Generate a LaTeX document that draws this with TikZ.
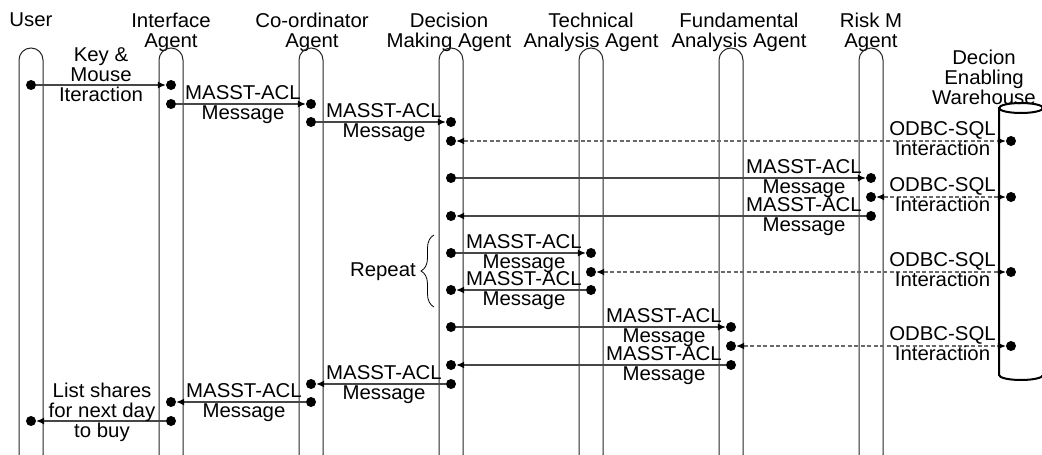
\documentclass[tikz,border=0pt]{standalone}
\usepackage{fontspec}
\setmainfont{Liberation Sans}[FakeStretch=1.02]
\usepackage{xcolor}
\usepackage{tikz}
\definecolor{linegray}{RGB}{70, 70, 70}
\definecolor{dashgray}{RGB}{105, 105, 105}
\usetikzlibrary{arrows.meta, positioning, calc, decorations.pathreplacing}

\begin{document}
\begin{tikzpicture}[x=1pt, y=-1pt,
        every node/.style={font=\fontsize{20}{20}\selectfont, inner sep=0pt},
        lifeline/.style={draw=black!85, line width=1pt, rounded corners=12pt,
                         minimum width=24pt, minimum height=419pt},
        dot/.style={circle, fill=black, minimum size=10pt},
        msg/.style={draw=linegray, line width=1.1pt, -{Latex[length=8pt, width=7pt, color=black]}},
        sqlmsg/.style={draw=dashgray, line width=1.1pt, dash pattern=on 4pt off 2.5pt,
                       {Latex[length=8pt, width=7pt, color=black]}-{Latex[length=8pt, width=7pt, color=black]}},
        head/.style={anchor=north, align=center},
        lbl/.style={anchor=north east, align=center}]
        \useasboundingbox (0,0) rectangle (1042,455);
        \clip (0,0) rectangle (1042,455);

        % headers
        \node[head] (huser) at (31,12.7) {User};
        \node[head] (hintf) at (171,12.7) {Interface\\Agent};
        \node[head] (hcoord) at (312,12.7) {Co-ordinator\\Agent};
        \node[head] (hdec) at (449,12.7) {Decision\\Making Agent};
        \node[head] (htech) at (591,12.7) {Technical\\Analysis Agent};
        \node[head] (hfund) at (739,12.7) {Fundamental\\Analysis Agent};
        \node[head] (hrisk) at (871,12.7) {Risk M\\Agent};
        \node[head] (hware) at (984,50) {Decion\\Enabling\\Warehouse};

        % lifelines
        \node[lifeline] (user) at (31,257.5) {};
        \node[lifeline] (intf) at (171,257.5) {};
        \node[lifeline] (coord) at (311,257.5) {};
        \node[lifeline] (dec) at (451,257.5) {};
        \node[lifeline] (tech) at (591,257.5) {};
        \node[lifeline] (fund) at (731,257.5) {};
        \node[lifeline] (risk) at (871,257.5) {};

        % warehouse
        \draw[line width=2pt] (999,108) -- (999,375)
            arc[start angle=180, end angle=0, x radius=22, y radius=5] -- (1043,108);
        \draw[line width=2pt] (1021,108) ellipse [x radius=22, y radius=5];

        % dots
        \node[dot] (u1) at (31,85) {};
        \node[dot] (u2) at (31,421) {};
        \node[dot] (i1) at (171,85) {};
        \node[dot] (i2) at (171,104) {};
        \node[dot] (i3) at (171,402) {};
        \node[dot] (i4) at (171,421) {};
        \node[dot] (c1) at (311,104) {};
        \node[dot] (c2) at (311,122) {};
        \node[dot] (c3) at (311,384) {};
        \node[dot] (c4) at (311,402) {};
        \node[dot] (d1) at (451,122) {};
        \node[dot] (d2) at (451,141) {};
        \node[dot] (d3) at (451,178) {};
        \node[dot] (d4) at (451,216) {};
        \node[dot] (d5) at (451,253) {};
        \node[dot] (d6) at (451,290) {};
        \node[dot] (d7) at (451,327) {};
        \node[dot] (d8) at (451,365) {};
        \node[dot] (d9) at (451,384) {};
        \node[dot] (t1) at (591,253) {};
        \node[dot] (t2) at (591,272) {};
        \node[dot] (t3) at (591,290) {};
        \node[dot] (f1) at (731,327) {};
        \node[dot] (f2) at (731,346) {};
        \node[dot] (f3) at (731,365) {};
        \node[dot] (r1) at (871,178) {};
        \node[dot] (r2) at (871,197) {};
        \node[dot] (r3) at (871,216) {};
        \node[dot] (w1) at (1011,141) {};
        \node[dot] (w2) at (1011,197) {};
        \node[dot] (w3) at (1011,272) {};
        \node[dot] (w4) at (1011,346) {};

        % messages
        \draw[msg] (u1) -- (i1);
        \draw[msg] (i2) -- (c1);
        \draw[msg] (c2) -- (d1);
        \draw[sqlmsg] (d2) -- (w1);
        \draw[msg] (d3) -- (r1);
        \draw[sqlmsg] (r2) -- (w2);
        \draw[msg] (r3) -- (d4);
        \draw[msg] (d5) -- (t1);
        \draw[sqlmsg] (t2) -- (w3);
        \draw[msg] (t3) -- (d6);
        \draw[msg] (d7) -- (f1);
        \draw[sqlmsg] (f2) -- (w4);
        \draw[msg] (f3) -- (d8);
        \draw[msg] (d9) -- (c3);
        \draw[msg] (c4) -- (i3);
        \draw[msg] (i4) -- (u2);

        % labels
        \node[head] (lkey) at (101,47.7) {Key \&\\Mouse\\Iteraction};
        \node[lbl] (l2) at (301,85) {MASST-ACL\\Message};
        \node[lbl] (l3) at (442,103) {MASST-ACL\\Message};
        \node[lbl] (l4) at (996,121) {ODBC-SQL\\Interaction};
        \node[lbl] (l5) at (862,159) {MASST-ACL\\Message};
        \node[lbl] (l6) at (996,177) {ODBC-SQL\\Interaction};
        \node[lbl] (l7) at (862,197) {MASST-ACL\\Message};
        \node[lbl] (l8) at (582,234) {MASST-ACL\\Message};
        \node[lbl] (l9) at (996,252) {ODBC-SQL\\Interaction};
        \node[lbl] (l10) at (582,271) {MASST-ACL\\Message};
        \node[lbl] (l11) at (722,308) {MASST-ACL\\Message};
        \node[lbl] (l12) at (996,326) {ODBC-SQL\\Interaction};
        \node[lbl] (l13) at (722,346) {MASST-ACL\\Message};
        \node[lbl] (l14) at (442,365) {MASST-ACL\\Message};
        \node[lbl] (l15) at (302,383) {MASST-ACL\\Message};
        \node[head] (llist) at (102,382.7) {List shares\\for next day\\to buy};

        % repeat
        \draw[line width=0.8pt, decorate, decoration={brace, amplitude=13pt}]
            (434,307) -- (434,235);
        \node[anchor=east] (rep) at (416,272) {Repeat};
    \end{tikzpicture}
\end{document}
